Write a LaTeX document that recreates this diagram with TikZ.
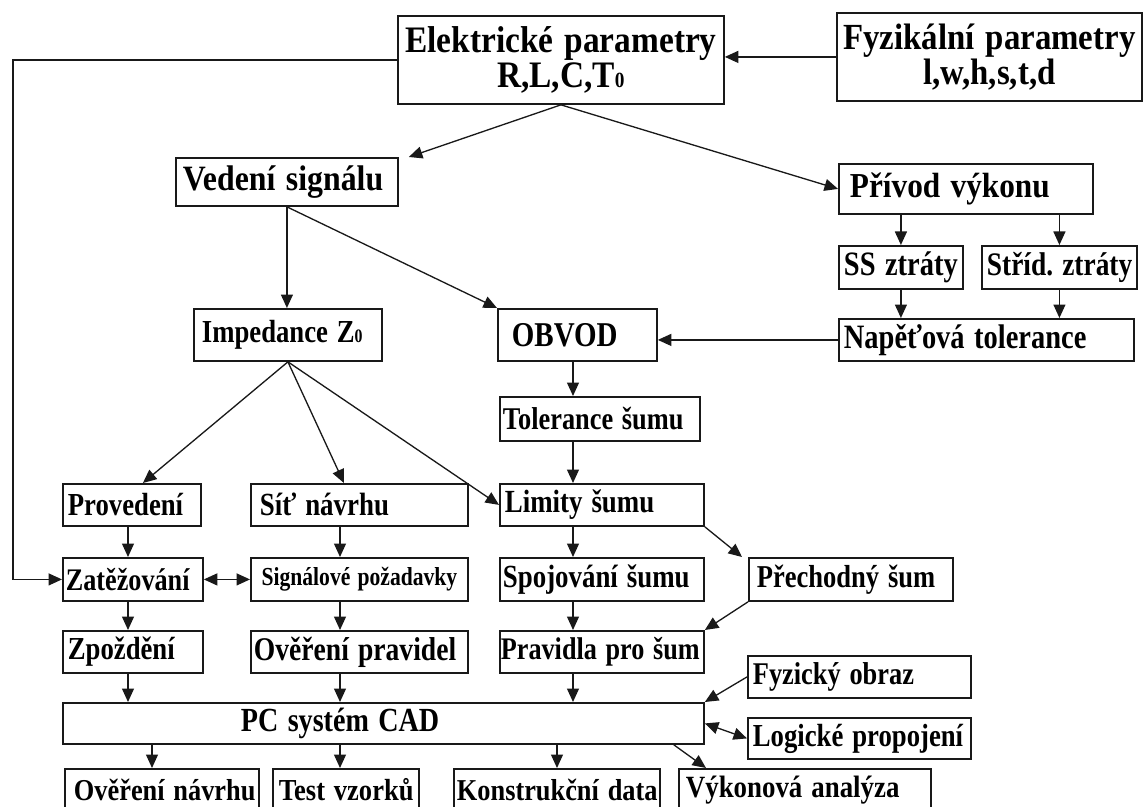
\documentclass[tikz,border=0pt]{standalone}
\usepackage{fontspec}
\setmainfont{Liberation Serif}
\usepackage{graphicx}
\usetikzlibrary{arrows.meta,calc}

% small zero used as index in T0 and Z0
\newcommand{\idxzero}[1]{{\fontsize{#1}{#1}\selectfont 0}}
% tall, narrow lettering of the labels
\newcommand{\stretchtext}[2][1.2]{\scalebox{1}[#1]{#2}}

\tikzset{
  % box of given width, height and left padding, all in pixels
  bx/.code n args={3}{%
    \pgfmathsetmacro\bxW{#1*0.02}%
    \pgfmathsetmacro\bxH{#2*0.02}%
    \pgfmathsetmacro\bxT{(#1-2*#3)*0.02}%
    \pgfmathsetmacro\bxP{#3*0.02}%
    \edef\bxtmp{\noexpand\tikzset{minimum width=\bxW cm,minimum height=\bxH cm,text width=\bxT cm,inner xsep=\bxP cm}}%
    \bxtmp},
  box/.style={draw=black!90, line width=1.05pt, inner ysep=0pt, anchor=north west,
    align=left, text=black, font=\bfseries},
  fs/.style={font=\bfseries\fontsize{#1}{#1}\selectfont},
  tip/.tip={Triangle[length=0.27cm,width=0.24cm]},
  arr/.style={draw=black!90, line width=0.75pt, -tip},
  arrb/.style={draw=black!90, line width=0.75pt, tip-tip},
}

\begin{document}
\begin{tikzpicture}[x=0.02cm, y=-0.02cm]
\useasboundingbox (0,0) rectangle (1143,807);
\fill[white] (0,0) rectangle (1143,807);
\clip (0,0) rectangle (1143,807);

% top level
\node[box, bx={326}{88}{6}, align=center, font=\bfseries\fontsize{19}{20}\selectfont] (elek) at (397,15)
  {\stretchtext[1.12]{Elektrické parametry}\\\stretchtext[1.12]{R,L,C,T\idxzero{11}}};
\node[box, bx={305}{88}{4}, align=center, font=\bfseries\fontsize{18.7}{20}\selectfont] (fyz) at (836,12)
  {\stretchtext[1.12]{Fyzikální parametry}\\\stretchtext[1.12]{l,w,h,s,t,d}};

\node[box, bx={222}{48}{7}, fs=18.1] (ved) at (175,157) {\stretchtext[1.12]{Vedení signálu}};
\node[box, bx={254}{50}{11}, fs=17.8] (priv) at (838,163) {\stretchtext[1.12]{Přívod výkonu}};
\node[box, bx={124}{43}{5}, fs=16.2] (ss) at (838,245) {\stretchtext{SS ztráty}};
\node[box, bx={155}{43}{5}, fs=15.6] (strid) at (981,245) {\stretchtext{Stříd.\ ztráty}};
\node[box, bx={295}{42}{5}, fs=16.2] (nap) at (838,318) {\stretchtext{Napěťová tolerance}};
\node[box, bx={159}{52}{14}, fs=16.5] (obv) at (497,308) {\stretchtext{OBVOD}};
\node[box, bx={188}{52}{8}, fs=15.2] (imp) at (193,308) {\stretchtext{Impedance Z\idxzero{9}}};
\node[box, bx={200}{44}{3}, fs=15] (tol) at (499,396) {\stretchtext{Tolerance šumu}};

% three columns
\node[box, bx={138}{42}{5}, fs=15.2] (prov) at (62,483) {\stretchtext{Provedení}};
\node[box, bx={217}{42}{9}, fs=15.3] (sit) at (250,483) {\stretchtext{Síť návrhu}};
\node[box, bx={204}{42}{5}, fs=15.3] (lim) at (499,483) {\stretchtext{Limity šumu}};

\node[box, bx={140}{43}{3}, fs=14.9] (zat) at (62,557) {\stretchtext{Zatěžování}};
\node[box, bx={217}{43}{8}, align=center, fs=12.3] (sig) at (250,557) {\stretchtext{Signálové požadavky}};
\node[box, bx={204}{43}{3}, fs=15.3] (spo) at (499,557) {\stretchtext{Spojování šumu}};
\node[box, bx={204}{43}{8}, fs=15.1] (pre) at (748,557) {\stretchtext{Přechodný šum}};

\node[box, bx={140}{42}{5}, fs=15.2] (zpo) at (62,630) {\stretchtext{Zpoždění}};
\node[box, bx={217}{42}{3}, fs=15.7] (ove) at (250,630) {\stretchtext{Ověření pravidel}};
\node[box, bx={204}{42}{1}, fs=14.9] (pra) at (499,630) {\stretchtext{Pravidla pro šum}};

\node[box, bx={223}{42}{5}, fs=15] (fyo) at (747,655) {\stretchtext{Fyzický obraz}};
\node[box, bx={641}{41}{178}, fs=16] (pc) at (62,702) {\stretchtext{PC systém CAD}};
\node[box, bx={223}{41}{5}, fs=15.2] (log) at (747,717) {\stretchtext{Logické propojení}};

% outputs of the CAD system
\node[box, bx={194}{42}{9}, fs=15] (ovn) at (64,768) {\stretchtext[1.15]{Ověření návrhu}};
\node[box, bx={146}{42}{6}, fs=15.1] (test) at (272,768) {\stretchtext[1.15]{Test vzorků}};
\node[box, bx={206}{42}{3}, fs=15] (kon) at (453,768) {\stretchtext[1.15]{Konstrukční data}};
\node[box, bx={252}{42}{7}, fs=15.3] (vyk) at (678,768) {\stretchtext[1.15]{Výkonová analýza}};

% column guides
\coordinate (cfb) at (13,400);
\coordinate (cA) at (128,0);
\coordinate (cB) at (340,0);
\coordinate (cC) at (573,0);
\coordinate (cD) at (152,0);
\coordinate (cE) at (557,0);

% connectors
\draw[arr] (fyz.west) -- (fyz.west -| elek.east);
\draw[arr] (elek.west) -| (cfb) |- (zat.west);
\draw[arr] (elek.south) -- ([xshift=0.2cm]ved.north east);
\draw[arr] (elek.south) -- (priv.west);

\draw[arr] (ved.south) -- (ved.south |- imp.north);
\draw[arr] (ved.south) -- (obv.north west);

\draw[arr] (ss.north |- priv.south) -- (ss.north);
\draw[arr] (strid.north |- priv.south) -- (strid.north);
\draw[arr] (ss.south) -- (ss.south |- nap.north);
\draw[arr] (strid.south) -- (strid.south |- nap.north);
\draw[arr] (nap.west) -- (nap.west -| obv.east);

\draw[arr] (cC |- obv.south) -- (cC |- tol.north);
\draw[arr] (cC |- tol.south) -- (cC |- lim.north);
\draw[arr] (cC |- lim.south) -- (cC |- spo.north);
\draw[arr] (cC |- spo.south) -- (cC |- pra.north);
\draw[arr] (cC |- pra.south) -- (cC |- pc.north);

\draw[arr] (imp.south) -- ([xshift=0.22cm]prov.north);
\draw[arr] (imp.south) -- ([xshift=-0.31cm]sit.north);
\draw[arr] (imp.south) -- (lim.west);

\draw[arr] (cA |- prov.south) -- (cA |- zat.north);
\draw[arr] (cA |- zat.south) -- (cA |- zpo.north);
\draw[arr] (cA |- zpo.south) -- (cA |- pc.north);

\draw[arr] (cB |- sit.south) -- (cB |- sig.north);
\draw[arr] (cB |- sig.south) -- (cB |- ove.north);
\draw[arr] (cB |- ove.south) -- (cB |- pc.north);

\draw[arrb] (zat.east) -- (sig.west);

\draw[arr] (lim.south east) -- ([xshift=-0.12cm]pre.north west);
\draw[arr] (pre.south west) -- (pra.north east);
\draw[arr] (fyo.west) -- (pc.north east);
\draw[arrb] (pc.east) -- (log.west);

\draw[arr] (cD |- pc.south) -- (cD |- ovn.north);
\draw[arr] (cB |- pc.south) -- (cB |- test.north);
\draw[arr] (cE |- pc.south) -- (cE |- kon.north);
\draw[arr] ([xshift=-0.62cm]pc.south east) -- ([xshift=0.56cm]vyk.north west);
\end{tikzpicture}
\end{document}
